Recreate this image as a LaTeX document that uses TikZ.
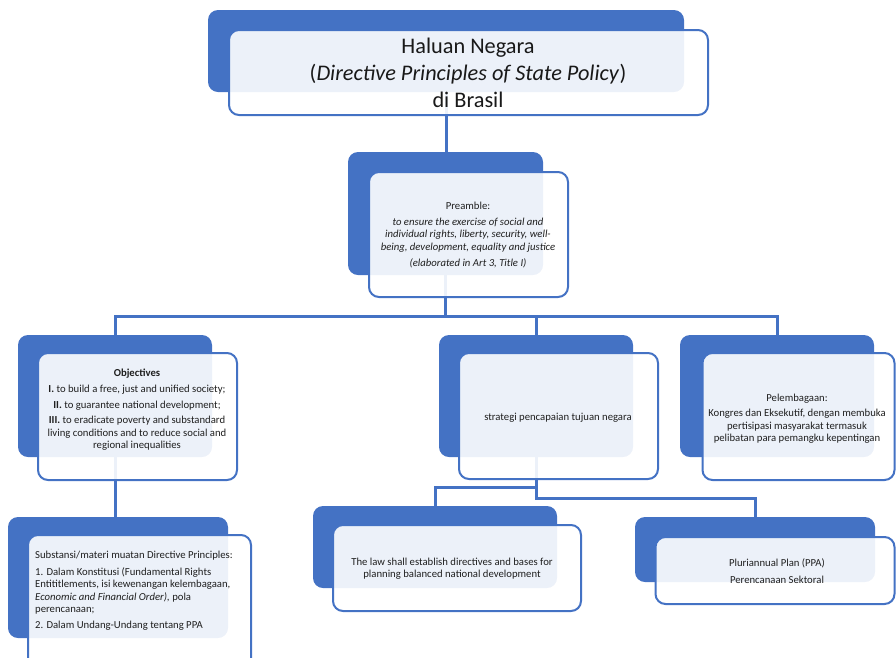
\documentclass[tikz,border=0pt]{standalone}
\usepackage{fontspec}
\setmainfont{Carlito}
\definecolor{blu}{HTML}{4472C4}
\pgfdeclarelayer{bg}
\pgfsetlayers{bg,main}
\tikzset{
  backbox/.style={rectangle, rounded corners=10pt, fill=blu, draw=none, inner sep=0pt},
  frontbox/.style={rectangle, rounded corners=10pt, fill=white, fill opacity=0.9, draw=blu, draw opacity=1, line width=2pt, inner sep=0pt},
  small/.style={inner sep=0pt, text=black!88, font=\fontsize{10.7}{12.4}\selectfont, align=center},
  big/.style={inner sep=0pt, text=black!90, font=\fontsize{22.3}{27}\selectfont, align=center},
  conn/.style={draw=blu, line width=3pt}
}
\begin{document}
\begin{tikzpicture}[x=1pt,y=-1pt]
\useasboundingbox (0,0) rectangle (896,657);
\clip (0,0) rectangle (896,657);
% back boxes
\node[backbox, minimum width=476pt, minimum height=82pt] (topB) at (446,51) {};
\node[backbox, minimum width=195pt, minimum height=123pt] (prB) at (445.5,213.5) {};
\node[backbox, minimum width=194pt, minimum height=122pt] (objB) at (115,396) {};
\node[backbox, minimum width=194pt, minimum height=122pt] (stB) at (536,396) {};
\node[backbox, minimum width=194pt, minimum height=122pt] (peB) at (777,396) {};
\node[backbox, minimum width=244pt, minimum height=82pt] (lawB) at (435,547) {};
\node[backbox, minimum width=240pt, minimum height=65pt] (ppaB) at (755,549.5) {};
\node[backbox, minimum width=220pt, minimum height=121pt] (subB) at (118,577.5) {};
% front boxes
\node[frontbox, minimum width=479pt, minimum height=85pt] (topF) at (468.5,72.5) {};
\node[frontbox, minimum width=199pt, minimum height=125pt] (prF) at (468.5,234.5) {};
\node[frontbox, minimum width=199pt, minimum height=127pt] (objF) at (137.5,416.5) {};
\node[frontbox, minimum width=199pt, minimum height=126pt] (stF) at (558.5,416) {};
\node[frontbox, minimum width=192pt, minimum height=127pt] (peF) at (798.5,416.5) {};
\node[frontbox, minimum width=248pt, minimum height=86pt] (lawF) at (457,568) {};
\node[frontbox, minimum width=239pt, minimum height=67pt] (ppaF) at (775,570.5) {};
\node[frontbox, minimum width=223pt, minimum height=155pt] (subF) at (139.5,612.5) {};
% texts
\node[big] (topT) at (468,73) {Haluan Negara\\(\textit{Directive Principles of State Policy})\\di Brasil};
\node[small] (prT) at (468,235) {Preamble:\\[3.5pt]\textit{to ensure the exercise of social and}\\\textit{individual rights, liberty, security, well-}\\\textit{being, development, equality and justice}\\[4pt]\textit{(elaborated in Art 3, Title I)}};
\node[small] (objT) at (137,409.5) {\textbf{Objectives}\\[3.5pt]\textbf{I.} to build a free, just and unified society;\\[4pt]\textbf{II.} to guarantee national development;\\[3pt]\textbf{III.} to eradicate poverty and substandard\\living conditions and to reduce social and\\regional inequalities};
\node[small] (stT) at (558,418) {strategi pencapaian tujuan negara};
\node[small] (peT) at (797,418.5) {Pelembagaan:\\[3pt]Kongres dan Eksekutif, dengan membuka\\pertisipasi masyarakat termasuk\\pelibatan para pemangku kepentingan};
\node[small] (lawT) at (452,568.5) {The law shall establish directives and bases for\\planning balanced national development};
\node[small] (ppaT) at (777,571) {Pluriannual Plan (PPA)\\[4pt]Perencanaan Sektoral};
\node[small, align=left, anchor=west] (subT) at (35,591) {Substansi/materi muatan Directive Principles:\\[4pt]1. Dalam Konstitusi (Fundamental Rights\\Entititlements, isi kewenangan kelembagaan,\\\textit{Economic and Financial Order),} pola\\perencanaan;\\[4pt]2. Dalam Undang-Undang tentang PPA};
% connectors
\begin{pgfonlayer}{bg}
\coordinate (busA) at (445.5,316);
\coordinate (busL) at (536,487);
\coordinate (busR) at (536,498);
\draw[conn] (topB.south) -- (topB.south |- prB.north);
\draw[conn] (prB.south) -- (busA) -| (objB.north);
\draw[conn] (busA) -| (stB.north);
\draw[conn] (busA) -| (peB.north);
\draw[conn] (objB.south) -- (objB.south |- subB.north);
\draw[conn] (stB.south) -- (busL) -| (lawB.north);
\draw[conn] (busL) -- (busR) -| (ppaB.north);
\end{pgfonlayer}
\end{tikzpicture}
\end{document}
